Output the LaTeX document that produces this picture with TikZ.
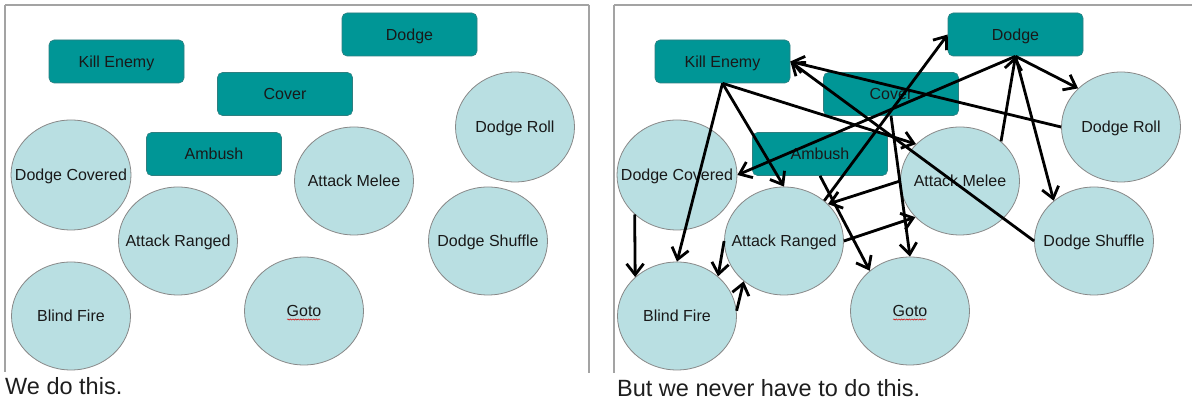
\documentclass[tikz,border=0pt]{standalone}
\usepackage{fontspec}
\setmainfont{Liberation Sans}
\usetikzlibrary{arrows.meta,shapes.geometric,decorations.pathmorphing}
\definecolor{boxfill}{HTML}{009696}
\definecolor{boxline}{HTML}{2E7F80}
\definecolor{circfill}{HTML}{B9DFE2}
\definecolor{circline}{HTML}{888888}
\definecolor{frameline}{HTML}{A3A3A3}
\definecolor{captxt}{HTML}{1E1E1E}
\tikzset{
  taskbox/.style={rectangle, rounded corners=5pt, fill=boxfill, draw=boxline, line width=0.6pt,
    minimum width=135pt, minimum height=43pt, inner sep=0pt, text=black!90,
    text height=12pt, text depth=0pt,
    font=\fontsize{16}{18}\selectfont},
  stateel/.style={ellipse, fill=circfill, draw=circline, line width=0.8pt,
    minimum width=119pt, minimum height=108pt, inner sep=0pt},
  every label/.style={font=\fontsize{16}{18}\selectfont, text=black!90, inner sep=0pt,
    text height=12pt, text depth=0pt},
  caption/.style={anchor=base west, inner sep=0pt, text=captxt, font=\fontsize{23.5}{28}\selectfont},
  frame/.style={draw=frameline, line width=1.8pt},
  arr/.style={line width=2.8pt, -{Straight Barb[length=11pt,width=17pt]}},
  squig/.style={draw=red!85!black, line width=0.5pt, decorate,
    decoration={snake, amplitude=0.6pt, segment length=2.6pt}}
}
\newcommand\drawpanel[1]{%
  \node[taskbox] (#1ke) at (116.5,61.5) {Kill Enemy};
  \node[taskbox] (#1do) at (409.5,34.5) {Dodge};
  \node[taskbox] (#1co) at (285,94) {Cover};
  \node[taskbox] (#1ab) at (214,154) {Ambush};
  \node[stateel, minimum width=120pt, minimum height=110pt, label={center:Dodge Covered}] (#1dc) at (71,175) {};
  \node[stateel, label={center:Attack Ranged}] (#1ar) at (178,241) {};
  \node[stateel, label={center:Attack Melee}] (#1am) at (354,181) {};
  \node[stateel, minimum height=110pt, label={center:Dodge Roll}] (#1dr) at (515,127) {};
  \node[stateel, label={center:Dodge Shuffle}] (#1ds) at (488,241) {};
  \node[stateel, label={center:Blind Fire}] (#1bf) at (71,316) {};
  \node[stateel, label={center:Goto}] (#1go) at (304,311) {};
  \draw[squig] ([xshift=-17pt,yshift=-8.5pt]#1go.center) -- ([xshift=16pt,yshift=-8.5pt]#1go.center);
}
\begin{document}
\begin{tikzpicture}[x=1pt,y=-1pt]
\useasboundingbox (0,0) rectangle (1192,403);
\fill[white] (0,0) rectangle (1192,403);
% left panel frame
\draw[frame] (5,5) -- (589,5);
\draw[frame] (5,5) -- (5,372);
\draw[frame] (589,5) -- (589,373);
% right panel frame
\draw[frame] (614,5) -- (1192,5);
\draw[frame] (614,5) -- (614,373);
% left panel
\drawpanel{l}
\node[caption] (capl) at (5,395) {We do this.};
% right panel
\begin{scope}[xshift=606pt]
\drawpanel{r}
\end{scope}
\node[caption] (capr) at (617,396) {But we never have to do this.};
% connectors
\draw[arr] (rke.south) -- (rbf.north);
\draw[arr] (rke.south) -- (rar.north);
\draw[arr] (rke.south) -- (ram.140);
\draw[arr] (rdr.west) -- (rke.east);
\draw[arr] (rds.west) -- (rke.east);
\draw[arr] (rdo.south) -- (rdr.138);
\draw[arr] (rdo.south) -- (rds.135);
\draw[arr] (ram.44) -- (rdo.south);
\draw[arr] (rdo.south) -- (rdc.east);
\draw[arr] (rar.45) -- (rdo.west);
\draw[arr] (ram.west) -- (rar.40);
\draw[arr] (rco.south) -- (rgo.north);
\draw[arr] (rab.south) -- (rgo.135);
\draw[arr] (rar.east) -- (ram.219);
\draw[arr] (rdc.223) -- (rbf.137);
\draw[arr] (rar.west) -- (rbf.44);
\draw[arr] (rbf.5) -- (rar.225);
\end{tikzpicture}
\end{document}
